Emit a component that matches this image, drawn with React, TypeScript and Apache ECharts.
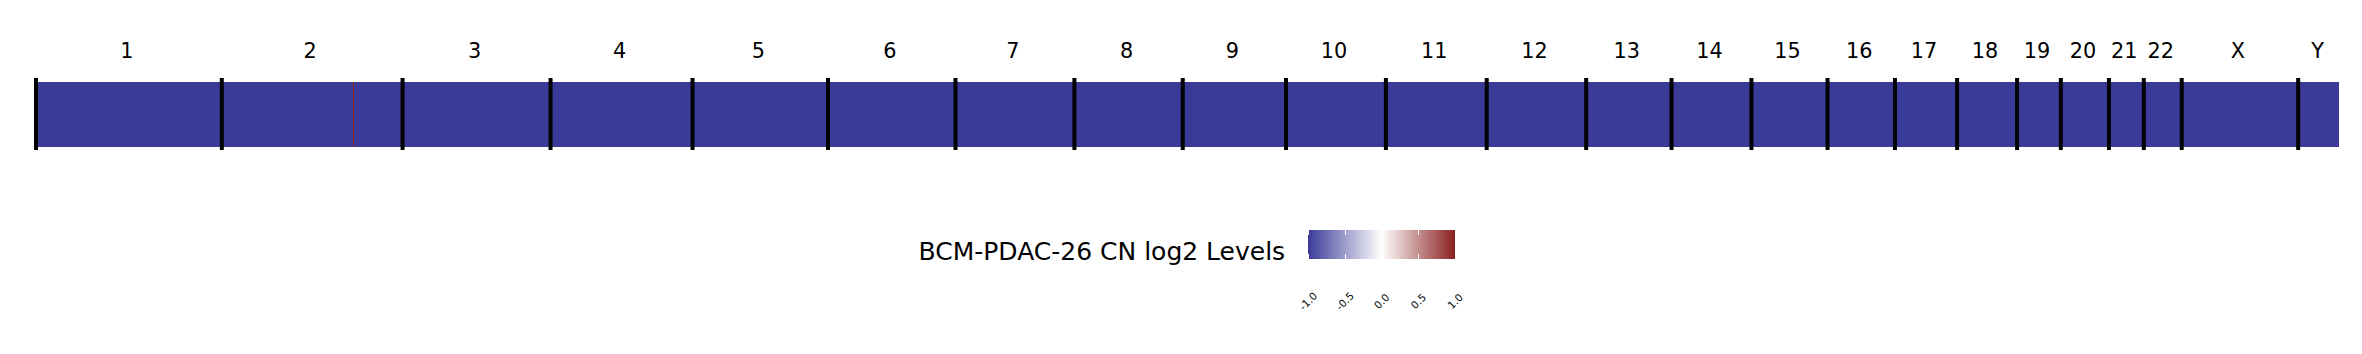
import React, { useEffect, useRef } from "react";
import * as echarts from "echarts";

// ---------- data ----------
const CHROM_NAMES = ["1", "2", "3", "4", "5", "6", "7", "8", "9", "10", "11", "12", "13", "14", "15", "16", "17", "18", "19", "20", "21", "22", "X", "Y"];
const CHROM_LENGTHS = [248956422, 242193529, 198295559, 190214555, 181538259, 170805979, 159345973, 145138636, 138394717, 133797422, 135086622, 133275309, 114364328, 107043718, 101991189, 90338345, 83257441, 80373285, 58617616, 64444167, 46709983, 50818468, 156040895, 57227415];

// [chromosome, start, end, log2 level]
const SEGMENTS: [string, number, number, number][] = [
  ["1", 0, 248956422, -1.0],
  ["2", 0, 175800000, -1.0],
  ["2", 175800000, 177150000, 1.0],
  ["2", 177150000, 242193529, -1.0],
  ["3", 0, 198295559, -1.0],
  ["4", 0, 190214555, -1.0],
  ["5", 0, 181538259, -1.0],
  ["6", 0, 170805979, -1.0],
  ["7", 0, 159345973, -1.0],
  ["8", 0, 145138636, -1.0],
  ["9", 0, 138394717, -1.0],
  ["10", 0, 133797422, -1.0],
  ["11", 0, 135086622, -1.0],
  ["12", 0, 133275309, -1.0],
  ["13", 0, 114364328, -1.0],
  ["14", 0, 107043718, -1.0],
  ["15", 0, 101991189, -1.0],
  ["16", 0, 90338345, -1.0],
  ["17", 0, 83257441, -1.0],
  ["18", 0, 80373285, -1.0],
  ["19", 0, 58617616, -1.0],
  ["20", 0, 64444167, -1.0],
  ["21", 0, 46709983, -1.0],
  ["22", 0, 50818468, -1.0],
  ["X", 0, 156040895, -1.0],
  ["Y", 0, 54700000, -1.0],
];

const COLORBAR_TICKS = [-1.0, -0.5, 0.0, 0.5, 1.0];
const LEVEL_MIN = -1.0;
const LEVEL_MAX = 1.0;
const TITLE = "BCM-PDAC-26 CN log2 Levels";

// ---------- style ----------
const CMAP = ["#3a3a98", "#ffffff", "#8a1f1f"];
const FONT = "DejaVu Sans";

export default function App() {
  const ref = useRef<HTMLDivElement>(null);

  useEffect(() => {
    if (!ref.current) return;
    const chart = echarts.init(ref.current, undefined, { renderer: "svg" });

    const offsets: number[] = [];
    let acc = 0;
    CHROM_LENGTHS.forEach((len) => {
      offsets.push(acc);
      acc += len;
    });
    const idxOf = (name: string) => CHROM_NAMES.indexOf(name);
    const mids = CHROM_LENGTHS.map((len, i) => offsets[i] + len / 2);

    const segData = SEGMENTS.map(([c, s, e, v]) => {
      const o = offsets[idxOf(c)];
      return [o + s, o + e, v];
    });
    const xMax = Math.max(...segData.map((d) => d[1] as number));
    const sepData = offsets.map((o) => [o]);

    const option: any = {
      animation: false,
      backgroundColor: "#ffffff",
      title: {
        text: TITLE,
        left: 918.5,
        top: 239,
        padding: 0,
        textStyle: { fontFamily: FONT, fontSize: 25, fontWeight: "normal", color: "#000000" },
      },
      grid: [
        { left: 36, top: 78, width: 2303, height: 72, outerBoundsMode: "none" },
        { left: 1308, top: 230, width: 147, height: 29, outerBoundsMode: "none" },
      ],
      xAxis: [
        {
          type: "value",
          gridIndex: 0,
          position: "top",
          min: 0,
          max: xMax,
          axisLine: { show: false },
          axisTick: { show: false },
          splitLine: { show: false },
          axisLabel: {
            customValues: mids,
            formatter: (v: number) => {
              let best = 0;
              mids.forEach((m, i) => {
                if (Math.abs(m - v) < Math.abs(mids[best] - v)) best = i;
              });
              return CHROM_NAMES[best];
            },
            fontFamily: FONT,
            fontSize: 20.8,
            color: "#000000",
            margin: 27,
            align: "center",
            verticalAlign: "middle",
            padding: [0, 4, 0, 0],
          },
        },
        {
          type: "value",
          gridIndex: 1,
          position: "bottom",
          min: LEVEL_MIN,
          max: LEVEL_MAX,
          interval: 0.5,
          z: 10,
          axisLine: { show: false },
          axisTick: { show: true, inside: true, length: 5, lineStyle: { color: "#ffffff", width: 1 } },
          splitLine: { show: false },
          axisLabel: {
            customValues: COLORBAR_TICKS,
            rotate: 45,
            fontFamily: FONT,
            fontSize: 10.4,
            color: "#000000",
            margin: 42,
            align: "center",
            verticalAlign: "middle",
            showMinLabel: true,
            showMaxLabel: true,
            formatter: (v: number) => v.toFixed(1),
          },
        },
        {
          type: "value",
          gridIndex: 1,
          position: "top",
          min: LEVEL_MIN,
          max: LEVEL_MAX,
          interval: 0.5,
          z: 10,
          axisLine: { show: false },
          axisTick: { show: true, inside: true, length: 5, lineStyle: { color: "#ffffff", width: 1 } },
          splitLine: { show: false },
          axisLabel: { show: false },
        },
      ],
      yAxis: [
        { type: "value", gridIndex: 0, min: 0, max: 1, show: false },
        { type: "value", gridIndex: 1, min: 0, max: 1, show: false },
      ],
      visualMap: {
        show: false,
        type: "continuous",
        min: LEVEL_MIN,
        max: LEVEL_MAX,
        dimension: 2,
        seriesIndex: 0,
        inRange: { color: CMAP },
      },
      series: [
        {
          type: "custom",
          xAxisIndex: 0,
          yAxisIndex: 0,
          data: segData,
          clip: false,
          renderItem: (params: any, api: any) => {
            const p0 = api.coord([api.value(0), 1]);
            const p1 = api.coord([api.value(1), 0]);
            const top = p0[1] + 4;
            const bottom = p1[1] - 3;
            return {
              type: "rect",
              shape: { x: p0[0], y: top, width: Math.max(p1[0] - p0[0], 0.6), height: bottom - top },
              style: { fill: api.visual("color") },
            };
          },
        },
        {
          type: "custom",
          xAxisIndex: 0,
          yAxisIndex: 0,
          data: sepData,
          clip: false,
          z: 5,
          renderItem: (params: any, api: any) => {
            const a = api.coord([api.value(0), 1]);
            const b = api.coord([api.value(0), 0]);
            return {
              type: "line",
              shape: { x1: a[0], y1: a[1], x2: b[0], y2: b[1] },
              style: { stroke: "#000000", lineWidth: 4 },
            };
          },
        },
        {
          type: "custom",
          xAxisIndex: 1,
          yAxisIndex: 1,
          data: [[LEVEL_MIN, LEVEL_MAX]],
          clip: false,
          z: 1,
          renderItem: (params: any, api: any) => {
            const a = api.coord([api.value(0), 1]);
            const b = api.coord([api.value(1), 0]);
            return {
              type: "rect",
              shape: { x: a[0], y: a[1], width: b[0] - a[0], height: b[1] - a[1] },
              style: {
                fill: new echarts.graphic.LinearGradient(
                  0, 0, 1, 0,
                  CMAP.map((c, i) => ({ offset: i / (CMAP.length - 1), color: c }))
                ),
              },
            };
          },
        },
      ],
    };

    chart.setOption(option);
    return () => chart.dispose();
  }, []);

  return (
    <div
      ref={ref}
      style={{ position: "fixed", left: 0, top: 0, width: 2362, height: 354, background: "#ffffff" }}
    />
  );
}
